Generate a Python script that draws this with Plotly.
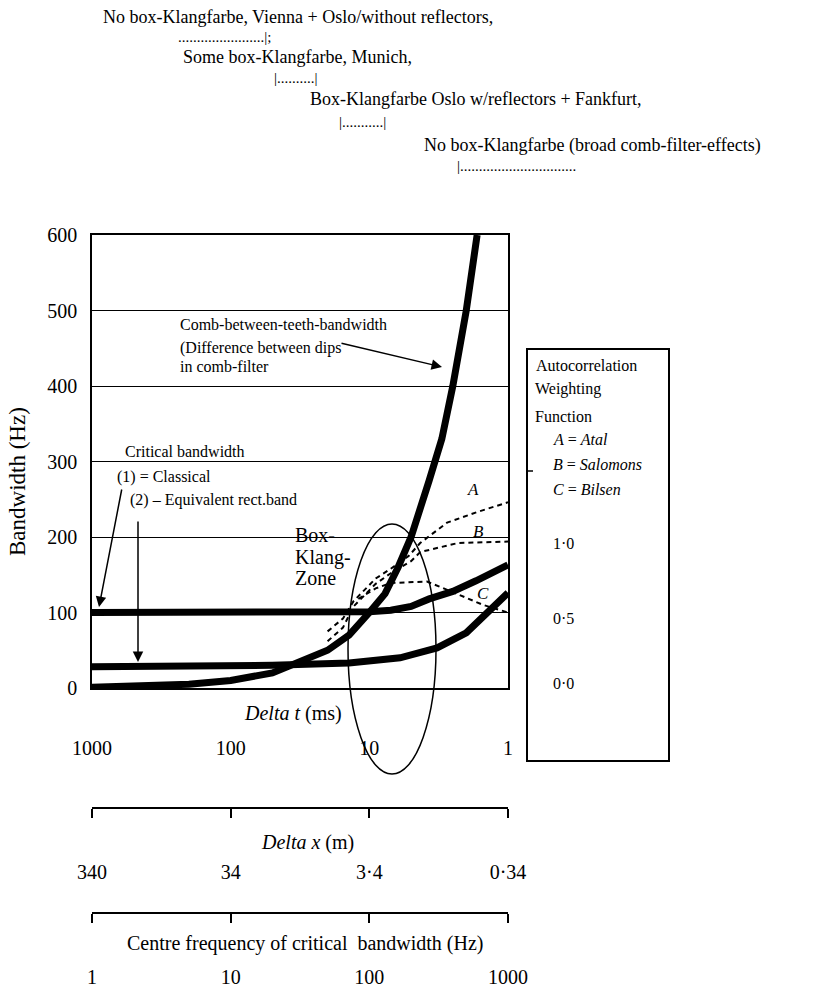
import math
import plotly.graph_objects as go

# ---------------- data ----------------
delta_t_ticks = [1000, 100, 10, 1]
delta_t_labels = ["1000", "100", "10", "1"]
delta_x_ticks = [340, 34, 3.4, 0.34]
delta_x_labels = ["340", "34", "3·4", "0·34"]
cf_ticks = [1, 10, 100, 1000]
cf_labels = ["1", "10", "100", "1000"]
bw_ticks = [0, 100, 200, 300, 400, 500, 600]

comb_ms = [1000, 500, 200, 100, 70, 50, 20, 14, 10, 7.7, 6.2, 5, 3.7, 3, 2.5, 2, 1.67]
comb_hz = [1, 2, 5, 10, 15, 20, 50, 70, 100, 125, 160, 200, 275, 330, 400, 500, 600]

classical_ms = [1000, 100, 20, 10, 7, 5, 3.7, 2.5, 1.7, 1]
classical_hz = [100, 100, 100, 101, 103, 108, 118, 128, 142, 163]

erb_ms = [1000, 100, 50, 14, 6, 3.25, 2, 1]
erb_hz = [28, 28, 30, 33, 40, 53, 73, 126]

A_ms = [20, 15.5, 13, 11, 9, 7, 5.2, 4.3, 2.75, 1.67, 1]
A_hz = [75, 92, 115, 128, 145, 158, 175, 192, 219, 233, 246]
B_ms = [20, 15.5, 13, 11, 9, 7, 5, 4.3, 2.3, 1]
B_hz = [62, 80, 108, 122, 138, 152, 168, 180, 192, 194]
C_ms = [12, 9, 7, 3.84, 3.09, 2.11, 1.51, 1]
C_hz = [118, 132, 139, 141, 134, 121, 110, 100]

# ---------------- layout geometry ----------------
W, H = 827, 990
ML, MR, MT, MB = 92, 319, 235, 40
PLOT_BOTTOM = 688
PW = W - ML - MR
PH = H - MT - MB
FONT = "Liberation Serif, Times New Roman, serif"


def px(x):
    return (x - ML) / PW


def py(y):
    return (H - MB - y) / PH


fig = go.Figure()

dash = dict(color="black", width=2, dash="5px,4px")
for xs, ys in [(A_ms, A_hz), (B_ms, B_hz), (C_ms, C_hz)]:
    fig.add_trace(go.Scatter(x=xs, y=ys, mode="lines", line=dash,
                             showlegend=False, hoverinfo="skip"))

thick = dict(color="black", width=7)
for xs, ys in [(erb_ms, erb_hz), (classical_ms, classical_hz), (comb_ms, comb_hz)]:
    fig.add_trace(go.Scatter(x=xs, y=ys, mode="lines", line=thick,
                             showlegend=False, hoverinfo="skip"))

# invisible traces to carry the extra scales
fig.add_trace(go.Scatter(x=delta_x_ticks, y=[None] * 4, xaxis="x2", yaxis="y",
                         mode="lines", showlegend=False, hoverinfo="skip"))
fig.add_trace(go.Scatter(x=cf_ticks, y=[None] * 4, xaxis="x3", yaxis="y",
                         mode="lines", showlegend=False, hoverinfo="skip"))

tickfont = dict(family=FONT, size=20, color="black")

fig.update_layout(
    width=W, height=H,
    margin=dict(l=ML, r=MR, t=MT, b=MB, autoexpand=False),
    paper_bgcolor="white", plot_bgcolor="white",
    font=dict(family=FONT, color="black"),
    showlegend=False,
    xaxis=dict(type="log", range=[3, 0], tickvals=delta_t_ticks, ticktext=delta_t_labels,
               showgrid=False, zeroline=False, showline=True, mirror=True,
               linecolor="black", linewidth=2, ticks="", tickfont=tickfont,
               ticklabelstandoff=41, automargin=False),
    yaxis=dict(range=[0, 600], tickvals=bw_ticks, domain=[py(PLOT_BOTTOM), 1],
               showgrid=True, gridcolor="black", gridwidth=1, zeroline=False,
               showline=True, mirror=True, linecolor="black", linewidth=1.5,
               ticks="", tickfont=tickfont, ticklabelstandoff=9, automargin=False),
    xaxis2=dict(type="log", overlaying="x", anchor="free", position=py(808),
                range=[math.log10(340), math.log10(0.34)],
                tickvals=delta_x_ticks, ticktext=delta_x_labels,
                showgrid=False, zeroline=False, showline=True, linecolor="black",
                linewidth=1.5, ticks="outside", ticklen=9, tickwidth=1.5,
                tickcolor="black", tickfont=tickfont, ticklabelstandoff=37,
                automargin=False),
    xaxis3=dict(type="log", overlaying="x", anchor="free", position=py(913),
                range=[0, 3], tickvals=cf_ticks, ticktext=cf_labels,
                showgrid=False, zeroline=False, showline=True, linecolor="black",
                linewidth=1.5, ticks="outside", ticklen=9, tickwidth=1.5,
                tickcolor="black", tickfont=tickfont, ticklabelstandoff=37,
                automargin=False),
)

ann = []


def text(x, y, s, size=16, anchor="left", italic=False, angle=0):
    if italic:
        s = "<i>" + s + "</i>"
    ann.append(dict(x=px(x), y=py(y), xref="paper", yref="paper", text=s,
                    showarrow=False, xanchor=anchor, yanchor="middle",
                    textangle=angle,
                    font=dict(family=FONT, size=size, color="black")))


# header lines
HS = 18
DS = 15
text(101, 17, "No box-Klangfarbe, Vienna + Oslo/without reflectors,", HS)
text(176, 37, "." * 23 + "|;", DS)
text(181, 57, "Some box-Klangfarbe, Munich,", HS)
text(272, 78, "|" + "." * 10 + "|", DS)
text(308, 99, "Box-Klangfarbe Oslo w/reflectors + Fankfurt,", HS)
text(337, 122, "|" + "." * 11 + "|", DS)
text(422, 145, "No box-Klangfarbe (broad comb-filter-effects)", HS)
text(455, 166, "|" + "." * 31, DS)

# y axis title
text(17, 482, "Bandwidth (Hz)", 23, "center", angle=-90)

# in-plot labels
text(178, 324, "Comb-between-teeth-bandwidth", 16)
text(178, 348, "(Difference between dips", 16)
text(178, 366, "in comb-filter", 16)
text(123, 451, "Critical bandwidth", 16)
text(115, 477, "(1) = Classical", 16)
text(128, 500, "(2) – Equivalent rect.band", 16)
text(293, 535, "Box-", 20)
text(293, 557, "Klang-", 20)
text(293, 578, "Zone", 20)
text(473, 489, "A", 17, "center", True)
text(478, 531, "B", 17, "center", True)
text(483, 593, "C", 17, "center", True)

# axis titles
text(293, 713, "<i>Delta t</i> (ms)", 20, "center")
text(307, 842, "<i>Delta x</i> (m)", 20, "center")
text(305, 943, "Centre frequency of critical  bandwidth (Hz)", 20, "center")

# legend box text
text(534, 365, "Autocorrelation", 16)
text(533, 389, "Weighting", 16)
text(533, 416, "Function", 16)
text(551, 439, "<i>A</i> = <i>Atal</i>", 16)
text(551, 464, "<i>B</i> = <i>Salomons</i>", 16)
text(551, 489, "<i>C</i> = <i>Bilsen</i>", 16)
text(551, 543, "1·0", 16)
text(551, 618, "0·5", 16)
text(551, 683, "0·0", 16)


def arrow(hx, hy, tx, ty):
    ann.append(dict(x=px(hx), y=py(hy), xref="paper", yref="paper", text="",
                    showarrow=True, ax=tx - hx, ay=ty - hy, arrowhead=2,
                    arrowsize=1.4, arrowwidth=1.5, arrowcolor="black", standoff=0))


arrow(442, 367, 340, 343)
arrow(99, 607, 122, 488)
arrow(138, 662, 138, 520)

fig.update_layout(annotations=ann)

shapes = [
    dict(type="circle", xref="paper", yref="paper", x0=px(348), x1=px(436),
         y0=py(774), y1=py(524), line=dict(color="black", width=1.5)),
    dict(type="rect", xref="paper", yref="paper", x0=px(527), x1=px(669),
         y0=py(761), y1=py(349), line=dict(color="black", width=2)),
    dict(type="line", xref="paper", yref="paper", x0=px(527), x1=px(533),
         y0=py(471), y1=py(471), line=dict(color="black", width=1.5)),
]
fig.update_layout(shapes=shapes)

fig.write_html("out.html")
